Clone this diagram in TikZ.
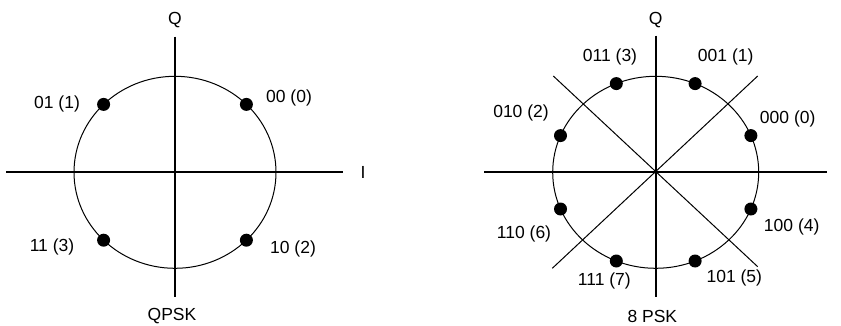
\documentclass[tikz,border=0pt]{standalone}
\usepackage{fontspec}
\setmainfont{Liberation Sans}
\usetikzlibrary{calc}
\begin{document}
\begin{tikzpicture}[x=1pt,y=-1pt,
  axis/.style={line width=2pt},
  thin/.style={line width=1pt},
  dot/.style={circle,fill=black,inner sep=0pt,minimum size=13pt},
  lbl/.style={font=\fontsize{17.5}{20}\selectfont,inner sep=0pt}]
\useasboundingbox (0,0) rectangle (841,326);
% ---- QPSK ----
\coordinate (c1) at (175,172.3);
\coordinate (h1a) at (6,172.3);
\coordinate (h1b) at (343,172.3);
\coordinate (v1a) at (175,36.7);
\coordinate (v1b) at (175,296.7);
\draw[thin] (c1) ellipse [x radius=101, y radius=96];
\draw[axis] (h1a) -- (h1b);
\draw[axis] (v1a) -- (v1b);
\node[dot] (q0) at ($(c1)+(71.4,-67.9)$) {};
\node[dot] (q1) at ($(c1)+(-71.4,-67.9)$) {};
\node[dot] (q3) at ($(c1)+(-71.4,67.9)$) {};
\node[dot] (q2) at ($(c1)+(71.4,67.9)$) {};
\node[lbl] (lq0) at (289,97.7) {00 (0)};
\node[lbl] (lq1) at (57,104) {01 (1)};
\node[lbl] (lq3) at (52,246.7) {11 (3)};
\node[lbl] (lq2) at (293,249) {10 (2)};
\node[lbl] (Q1) at (175,20) {Q};
\node[lbl] (I1) at (363,172.3) {I};
\node[lbl] (t1) at (172,316.5) {QPSK};
% ---- 8PSK ----
\coordinate (c2) at (655.7,172.3);
\coordinate (h2a) at (484.3,172.3);
\coordinate (h2b) at (826.7,172.3);
\coordinate (v2a) at (655.7,35.7);
\coordinate (v2b) at (655.7,296.7);
\coordinate (d1a) at (553.3,76);
\coordinate (d1b) at (757.7,266.7);
\coordinate (d2a) at (757.7,76);
\coordinate (d2b) at (552.3,268.3);
\draw[thin] (c2) ellipse [x radius=103, y radius=96];
\draw[thin] (d1a) -- (d1b);
\draw[thin] (d2a) -- (d2b);
\draw[axis] (h2a) -- (h2b);
\draw[axis] (v2a) -- (v2b);
\node[dot] (p0) at ($(c2)+(95.2,-36.7)$) {};
\node[dot] (p1) at ($(c2)+(39.4,-88.7)$) {};
\node[dot] (p3) at ($(c2)+(-39.4,-88.7)$) {};
\node[dot] (p2) at ($(c2)+(-95.2,-36.7)$) {};
\node[dot] (p6) at ($(c2)+(-95.2,36.7)$) {};
\node[dot] (p7) at ($(c2)+(-39.4,88.7)$) {};
\node[dot] (p5) at ($(c2)+(39.4,88.7)$) {};
\node[dot] (p4) at ($(c2)+(95.2,36.7)$) {};
\node[lbl] (lp3) at (610,57.3) {011 (3)};
\node[lbl] (lp1) at (725.7,57.3) {001 (1)};
\node[lbl] (lp2) at (521,112.7) {010 (2)};
\node[lbl] (lp0) at (787.7,119) {000 (0)};
\node[lbl] (lp6) at (524,234.3) {110 (6)};
\node[lbl] (lp4) at (791.7,227.3) {100 (4)};
\node[lbl] (lp7) at (604.3,281) {111 (7)};
\node[lbl] (lp5) at (734.3,277.7) {101 (5)};
\node[lbl] (Q2) at (655.7,20) {Q};
\node[lbl] (t2) at (652.3,316.5) {8 PSK};
\end{tikzpicture}
\end{document}
